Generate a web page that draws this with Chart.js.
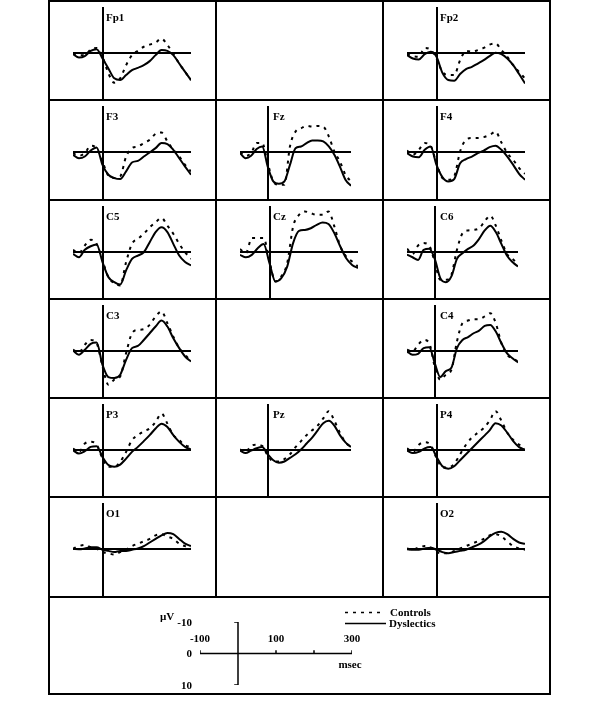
<!DOCTYPE html>
<html><head><meta charset="utf-8">
<script src="https://cdn.jsdelivr.net/npm/chart.js@4.4.1/dist/chart.umd.min.js"></script>
<style>
body{margin:0;background:#fff;}
#root{position:relative;width:600px;height:714px;overflow:hidden;background:#fff;}
.ln{position:absolute;background:#000;}
.lbl{position:absolute;font-family:"Liberation Serif","Times New Roman",serif;font-weight:bold;font-size:11px;line-height:1;color:#000;white-space:nowrap;}
canvas{position:absolute;}
</style></head><body><div id="root"></div>
<script>
// ---- data (µV, negative plotted upward) ----
const times = [-100,-80,-60,-40,-20,0,20,40,60,80,100,120,140,160,180,200,220,240,260,280,300];
const electrodes = ['Fp1','Fp2','F3','Fz','F4','C5','Cz','C6','C3','C4','P3','Pz','P4','O1','O2'];

const Fp1_controls   = [0.4,1.1,1.1,-1.2,-1.9,1.8,8.7,12.6,10.8,5.3,1.1,-0.7,-2.4,-3.3,-4.2,-5.8,-3.1,0.4,4.6,8.1,11.5];
const Fp1_dyslectics = [0.7,2.1,1.5,-0.7,-1.4,2.5,6.7,10.8,11.5,9.4,7.4,6.4,5.3,3.6,1.1,-1.0,-0.7,1.1,4.6,8.1,11.5];
const Fp2_controls   = [0.7,1.5,1.8,-1.9,-1.2,2.5,8.1,9.4,9.4,3.2,-0.7,-0.3,-1.0,-1.9,-3.3,-3.8,-1.0,1.8,5.3,8.1,10.8];
const Fp2_dyslectics = [1.1,2.5,2.9,0.7,-0.3,1.8,8.5,11.5,11.8,9.0,6.9,6.0,4.6,3.2,1.5,0.1,0.7,2.5,5.3,9.0,12.9];
const F3_controls    = [0.7,1.8,0.7,-2.4,-1.4,4.2,10.1,11.1,10.4,2.1,-1.4,-2.1,-3.5,-4.9,-7.4,-7.9,-4.2,-0.7,2.1,5.6,8.3];
const F3_dyslectics  = [1.4,2.8,2.1,-0.4,-1.7,5.6,9.7,11.1,11.5,8.3,4.6,3.9,2.1,0.4,-1.4,-3.5,-3.1,-0.7,2.8,6.3,9.7];
const Fz_controls    = [0.4,1.8,0.7,-3.5,-3.5,4.9,12.5,13.9,13.9,-2.1,-8.3,-9.7,-10.7,-10.4,-10.7,-10.4,-6.3,0,4.2,9.7,12.5];
const Fz_dyslectics  = [0.7,2.8,1.8,-1.0,-2.1,6.3,12.5,13.5,12.5,5.6,-1.4,-2.1,-3.5,-4.6,-4.6,-4.2,-2.1,1.4,6.3,11.8,14.3];
const F4_controls    = [-0.4,1.4,-0.7,-3.5,-2.4,4.9,11.1,11.8,10.4,0,-4.9,-5.6,-5.6,-6.0,-6.9,-8.3,-3.8,0.7,3.5,6.9,9.3];
const F4_dyslectics  = [0.7,2.1,2.4,-0.7,-2.1,5.6,10.7,12.5,11.5,4.9,3.2,2.1,0.7,-0.4,-1.8,-2.4,-0.7,2.1,5.6,9.3,11.8];
const C5_controls    = [-0.7,0.7,-2.5,-4.9,-3.2,3.8,10.7,13.2,14.2,4.4,-3.2,-5.3,-7.4,-10.1,-12.2,-14.0,-10.8,-7.4,-3.2,0.3,3.1];
const C5_dyslectics  = [1.0,2.4,-0.7,-2.2,-2.9,4.4,10.7,12.8,13.8,7.9,3.1,1.7,0.3,-3.9,-8.1,-10.1,-8.1,-3.2,1.7,4.4,5.8];
const Cz_controls    = [-1.0,0.7,-5.6,-5.6,-5.6,4.2,12.5,10.4,4.9,-10.4,-15.3,-16.7,-16.0,-15.3,-15.3,-16.7,-10.4,-2.1,2.1,4.2,6.3];
const Cz_dyslectics  = [1.4,2.4,1.4,-1.4,-3.1,4.9,12.5,11.1,6.3,-3.5,-8.6,-9.0,-9.7,-11.1,-12.1,-11.5,-7.6,-2.1,2.8,5.6,6.9];
const C6_controls    = [-1.1,1.0,-2.5,-3.5,-2.5,4.4,11.8,11.8,9.7,-0.7,-7.6,-8.8,-9.0,-9.7,-12.6,-15.0,-10.8,-4.6,1.0,3.1,5.1];
const C6_dyslectics  = [1.3,2.4,3.5,-0.7,-1.1,3.1,11.1,12.8,10.4,3.1,0.7,-1.1,-2.5,-5.3,-8.8,-10.8,-8.1,-3.2,1.7,4.4,6.3];
const C3_controls    = [-0.3,0.8,-2.4,-4.4,-3.1,6.7,14.3,12.2,10.8,1.1,-7.2,-8.6,-8.9,-10.7,-14.2,-16.3,-11.4,-5.8,-1.0,1.8,4.6];
const C3_dyslectics  = [0,1.8,-0.3,-2.8,-3.3,6.0,11.1,11.5,10.1,3.9,-1.0,-1.9,-4.4,-7.2,-10.0,-12.5,-10.0,-5.1,-1.0,2.5,4.6];
const C4_controls    = [-0.3,0.4,-2.4,-4.4,-3.1,6.7,12.2,10.1,8.1,-3.8,-11.4,-12.5,-13.1,-13.1,-14.2,-15.6,-11.4,-3.1,1.8,3.2,4.6];
const C4_dyslectics  = [0.4,1.8,1.4,-1.0,-1.4,5.3,11.1,8.6,7.2,-1.0,-4.4,-5.6,-7.2,-8.3,-10.3,-10.7,-7.9,-3.1,1.1,3.2,5.0];
const P3_controls    = [-0.4,1.0,-2.5,-3.2,-2.1,3.8,7.2,7.2,5.1,1.0,-3.9,-6.0,-7.6,-8.8,-11.5,-15.0,-10.8,-6.0,-3.9,-1.8,-1.1];
const P3_dyslectics  = [0.3,1.7,0.7,-1.1,-1.4,3.1,6.5,7.2,6.3,3.8,1.0,-1.1,-3.5,-6.0,-8.8,-10.8,-9.4,-6.0,-3.2,-1.1,0];
const Pz_controls    = [0,1.0,-1.5,-2.0,-1.5,2.5,5.0,5.0,4.0,2.0,-1.0,-3.5,-6.0,-8.0,-10.0,-13.0,-16.0,-12.0,-7.0,-3.0,-1.0];
const Pz_dyslectics  = [0.5,1.5,0.5,-0.5,-1.0,2.0,4.5,5.5,5.0,3.5,2.0,0,-2.5,-5.0,-8.0,-11.0,-12.0,-10.0,-6.0,-3.0,-1.0];
const P4_controls    = [-0.5,1.0,-2.0,-3.0,-2.0,3.5,7.5,7.5,6.0,2.0,-2.0,-5.0,-7.0,-9.0,-12.0,-16.0,-12.0,-7.0,-4.0,-2.0,-1.0];
const P4_dyslectics  = [0.5,1.5,1.0,-0.5,-1.0,3.0,7.0,8.0,7.0,4.5,2.0,-0.5,-3.0,-5.5,-8.0,-11.0,-10.0,-7.0,-3.5,-1.0,0];
const O1_controls    = [0,-1.0,-1.5,-0.5,0,1.5,2.0,2.5,1.5,0.5,-1.0,-2.0,-3.0,-4.0,-5.5,-6.0,-5.0,-4.0,-2.0,-1.0,-0.5];
const O1_dyslectics  = [0.2,0.3,0,-0.5,-0.5,0.5,1.0,1.5,1.0,1.0,0.5,0,-1.0,-2.5,-4.0,-5.5,-6.5,-6.0,-4.0,-2.0,-1.0];
const O2_controls    = [0,0.5,-0.5,-1.0,-0.5,1.5,2.0,2.0,1.0,0,-1.0,-2.0,-3.0,-4.0,-5.5,-6.0,-5.0,-3.0,-1.0,0,0.5];
const O2_dyslectics  = [0.3,0.5,0.5,0,-0.3,0.5,1.5,2.0,1.5,1.0,0.5,-0.5,-1.5,-3.0,-5.0,-6.5,-7.0,-6.0,-4.0,-2.5,-2.0];

const seriesNames = ['Controls','Dyslectics'];
const scaleTimeTicks = [-100,100,200,300];
const scaleTimeLabels = [-100,100,300];
const scaleVoltLabels = [-10,0,10];

// ---- layout ----
const colX = [49,216,383,550];
const rowY = [1,100,200,299,398,497,597];
const legendBottom = 694;
const cellOf = {Fp1:[0,0],Fp2:[0,2],F3:[1,0],Fz:[1,1],F4:[1,2],C5:[2,0],Cz:[2,1],C6:[2,2],
                C3:[3,0],C4:[3,2],P3:[4,0],Pz:[4,1],P4:[4,2],O1:[5,0],O2:[5,2]};
const narrow = {Fz:true, C6:true, C4:true, Pz:true};

const root = document.getElementById('root');
function line(x,y,w,h){const d=document.createElement('div');d.className='ln';
  Object.assign(d.style,{left:x+'px',top:y+'px',width:w+'px',height:h+'px'});root.appendChild(d);}
function text(t,x,y,align){const d=document.createElement('div');d.className='lbl';d.textContent=t;
  d.style.top=(y-5.5)+'px';
  if(align==='right'){d.style.right=(600-x)+'px';}
  else if(align==='center'){d.style.left=x+'px';d.style.transform='translateX(-50%)';}
  else d.style.left=x+'px';
  root.appendChild(d);return d;}

// grid lines
rowY.forEach(y=>line(colX[0]-1,y-1,colX[3]-colX[0]+2,2));
line(colX[0]-1,legendBottom-1,colX[3]-colX[0]+2,2);
line(colX[0]-1,rowY[0]-1,2,legendBottom-rowY[0]+1);
line(colX[3]-1,rowY[0]-1,2,legendBottom-rowY[0]+1);
[colX[1],colX[2]].forEach(x=>line(x-1,rowY[0]-1,2,rowY[6]-rowY[0]));

const axesPlugin = {id:'zeroAxes', beforeDatasetsDraw(chart){
  const {ctx,chartArea} = chart; const xs=chart.scales.x, ys=chart.scales.y;
  ctx.save(); ctx.strokeStyle='#000'; ctx.lineWidth=2; ctx.beginPath();
  const y0=Math.round(ys.getPixelForValue(0));
  ctx.moveTo(xs.getPixelForValue(xs.min),y0); ctx.lineTo(xs.getPixelForValue(xs.max),y0);
  const x0=Math.round(xs.getPixelForValue(0));
  ctx.moveTo(x0,chartArea.top); ctx.lineTo(x0,chart.height);
  ctx.stroke(); ctx.restore();
}};

const dataOf = {Fp1:[Fp1_controls,Fp1_dyslectics],Fp2:[Fp2_controls,Fp2_dyslectics],F3:[F3_controls,F3_dyslectics],
  Fz:[Fz_controls,Fz_dyslectics],F4:[F4_controls,F4_dyslectics],C5:[C5_controls,C5_dyslectics],
  Cz:[Cz_controls,Cz_dyslectics],C6:[C6_controls,C6_dyslectics],C3:[C3_controls,C3_dyslectics],
  C4:[C4_controls,C4_dyslectics],P3:[P3_controls,P3_dyslectics],Pz:[Pz_controls,Pz_dyslectics],
  P4:[P4_controls,P4_dyslectics],O1:[O1_controls,O1_dyslectics],O2:[O2_controls,O2_dyslectics]};

electrodes.forEach(name=>{
  const [r,c]=cellOf[name];
  const L=colX[c], T=rowY[r], W=colX[c+1]-colX[c], H=rowY[r+1]-rowY[r];
  const cv=document.createElement('canvas');
  cv.width=W; cv.height=H-1; cv.style.left=L+'px'; cv.style.top=T+'px';
  cv.style.width=W+'px'; cv.style.height=(H-1)+'px';
  root.appendChild(cv);
  const [ctrl,dys]=dataOf[name];
  const pr = narrow[name] ? W-135 : W-142;
  new Chart(cv,{type:'line',
    data:{datasets:[
      {label:seriesNames[0],data:times.map((t,i)=>({x:t,y:ctrl[i]})),borderColor:'#000',borderWidth:2,
       borderDash:[3,5],pointRadius:0,cubicInterpolationMode:'monotone',fill:false},
      {label:seriesNames[1],data:times.map((t,i)=>({x:t,y:dys[i]})),borderColor:'#000',borderWidth:2,
       pointRadius:0,cubicInterpolationMode:'monotone',fill:false}
    ]},
    options:{responsive:false,animation:false,maintainAspectRatio:false,
      layout:{padding:{left:24,right:pr,top:6,bottom:H-1-(97)}},
      plugins:{legend:{display:false},tooltip:{enabled:false}},
      scales:{x:{type:'linear',min:-100,max:300,display:false},
              y:{min:-19,max:19,reverse:true,display:false}}},
    plugins:[axesPlugin]});
  text(name,L+57,T+16.5);
});

// ---- scale bar ----
const sc=document.createElement('canvas');
const SL=170, ST=605, SW=200, SH=90;
sc.width=SW; sc.height=SH; Object.assign(sc.style,{left:SL+'px',top:ST+'px',width:SW+'px',height:SH+'px'});
root.appendChild(sc);
const seg=(pts)=>({data:pts.map(p=>({x:p[0],y:p[1]})),borderColor:'#000',borderWidth:1.5,pointRadius:0,tension:0,fill:false});
const scaleSets=[seg([[-100,0],[300,0]]), seg([[-10,-10],[0,-10],[0,10],[-10,10]])];
scaleTimeTicks.forEach(t=>scaleSets.push(seg([[t,0],[t,-1]])));
const scaleChart=new Chart(sc,{type:'line',data:{datasets:scaleSets},
  options:{responsive:false,animation:false,maintainAspectRatio:false,
    layout:{padding:{left:30,right:18,top:17,bottom:10}},
    plugins:{legend:{display:false},tooltip:{enabled:false}},
    scales:{x:{type:'linear',min:-100,max:300,display:false},y:{min:-10,max:10,reverse:true,display:false}}}});
const sx=scaleChart.scales.x, sy=scaleChart.scales.y;
const px=v=>SL+sx.getPixelForValue(v), py=v=>ST+sy.getPixelForValue(v);
scaleVoltLabels.forEach(v=>text(String(v),px(-100)-8,py(v),'right'));
text('µV',px(-100)-40,py(-10)-5.5);
scaleTimeLabels.forEach(t=>text(String(t),px(t),py(0)-15,'center'));
text('msec',px(300)-2,py(0)+11,'center');

// ---- legend ----
const svgNS='http://www.w3.org/2000/svg';
const svg=document.createElementNS(svgNS,'svg');
svg.setAttribute('width','600');svg.setAttribute('height','714');
Object.assign(svg.style,{position:'absolute',left:'0',top:'0'});
[[612.5,'3,5',381],[623.5,null,386]].forEach(([y,dash,x2])=>{
  const l=document.createElementNS(svgNS,'line');
  l.setAttribute('x1',345);l.setAttribute('x2',x2);l.setAttribute('y1',y);l.setAttribute('y2',y);
  l.setAttribute('stroke','#000');l.setAttribute('stroke-width','1.5');
  if(dash)l.setAttribute('stroke-dasharray',dash);
  svg.appendChild(l);});
root.appendChild(svg);
text(seriesNames[0],390,612);
text(seriesNames[1],389,623);
</script></body></html>
